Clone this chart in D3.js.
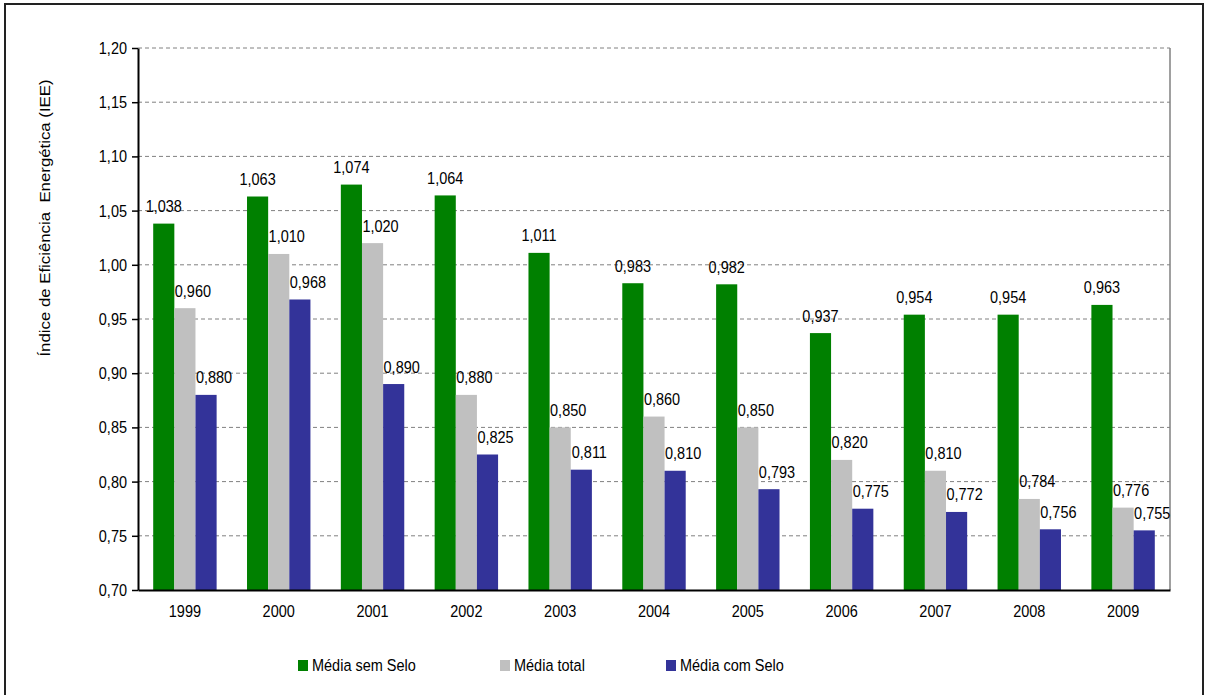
<!DOCTYPE html>
<html>
<head>
<meta charset="utf-8">
<script src="https://cdn.jsdelivr.net/npm/d3@7"></script>
<style>
  body { margin: 0; background: #fff; }
  text { font-family: "Liberation Sans", Arial, sans-serif; fill: #000; }
</style>
</head>
<body>
<div id="grafico"></div>
<script>
// dados
var anos = ["1999", "2000", "2001", "2002", "2003", "2004", "2005", "2006", "2007", "2008", "2009"];
var series = ["Média sem Selo", "Média total", "Média com Selo"];
var semSelo = [1.038, 1.063, 1.074, 1.064, 1.011, 0.983, 0.982, 0.937, 0.954, 0.954, 0.963];
var total = [0.960, 1.010, 1.020, 0.880, 0.850, 0.860, 0.850, 0.820, 0.810, 0.784, 0.776];
var comSelo = [0.880, 0.968, 0.890, 0.825, 0.811, 0.810, 0.793, 0.775, 0.772, 0.756, 0.755];
var yTicks = [0.70, 0.75, 0.80, 0.85, 0.90, 0.95, 1.00, 1.05, 1.10, 1.15, 1.20];
var cores = ["#008000", "#C0C0C0", "#333399"];

var valores = [semSelo, total, comSelo];

var width = 1209;
var height = 695;
var margem = {top: 48, right: 39, bottom: 105, left: 138};
var estica = 1.2; // o grafico original parece esticado na vertical

var svg = d3.select("#grafico")
    .append("svg")
    .attr("width", width)
    .attr("height", height);

// moldura externa
svg.append("rect")
    .attr("x", 5).attr("y", 4)
    .attr("width", 1198).attr("height", 700)
    .attr("fill", "none")
    .attr("stroke", "#222")
    .attr("stroke-width", 2);

var x0 = d3.scaleBand()
    .domain(anos)
    .range([margem.left, width - margem.right])
    .paddingInner(0.324)
    .paddingOuter(0.162);

var x1 = d3.scaleBand()
    .domain([0, 1, 2])
    .range([0, x0.bandwidth()]);

var y = d3.scaleLinear()
    .domain([0.70, 1.20])
    .range([height - margem.bottom, margem.top]);

var fmt = function (v, casas) { return v.toFixed(casas).replace(".", ","); };

// grade
svg.append("g")
    .selectAll("line")
    .data(yTicks.slice(1))
    .enter()
    .append("line")
    .attr("x1", margem.left)
    .attr("x2", width - margem.right)
    .attr("y1", function (d) { return y(d); })
    .attr("y2", function (d) { return y(d); })
    .attr("stroke", "#808080")
    .attr("stroke-width", 1)
    .attr("stroke-dasharray", "4,3");

// borda direita da area
svg.append("line")
    .attr("x1", width - margem.right).attr("x2", width - margem.right)
    .attr("y1", margem.top).attr("y2", height - margem.bottom)
    .attr("stroke", "#808080")
    .attr("stroke-width", 1.5);

// barras
var grupos = svg.append("g")
    .selectAll("g")
    .data(anos)
    .enter()
    .append("g")
    .attr("transform", function (d) { return "translate(" + x0(d) + ",0)"; });

grupos.selectAll("rect")
    .data(function (d, i) { return valores.map(function (s, k) { return {k: k, v: s[i]}; }); })
    .enter()
    .append("rect")
    .attr("x", function (d) { return x1(d.k); })
    .attr("y", function (d) { return y(d.v); })
    .attr("width", x1.bandwidth())
    .attr("height", function (d) { return y(0.70) - y(d.v); })
    .attr("fill", function (d) { return cores[d.k]; });

grupos.selectAll("text")
    .data(function (d, i) { return valores.map(function (s, k) { return {k: k, v: s[i]}; }); })
    .enter()
    .append("text")
    .attr("transform", function (d) {
        var cx = x1(d.k) + x1.bandwidth() / 2 + (d.k > 0 ? 8 : 0);
        return "translate(" + cx + "," + (y(d.v) - 11.5) + ") scale(1," + estica + ")";
    })
    .attr("text-anchor", "middle")
    .style("font-size", "14.5px")
    .text(function (d) { return fmt(d.v, 3); });

// eixo y
var eixoY = svg.append("g")
    .attr("transform", "translate(" + margem.left + ",0)")
    .call(d3.axisLeft(y).tickValues(yTicks).tickSize(6).tickSizeOuter(0)
        .tickFormat(function (d) { return fmt(d, 2); }));
eixoY.select(".domain").attr("stroke", "#000").attr("stroke-width", 2);
eixoY.selectAll(".tick line").attr("stroke", "#000").attr("stroke-width", 1.5);
eixoY.selectAll(".tick text")
    .attr("x", -11)
    .attr("transform", "scale(1," + estica + ")")
    .style("font-size", "14.5px")
    .style("font-family", "Liberation Sans, Arial, sans-serif");

// eixo x
var eixoX = svg.append("g")
    .attr("transform", "translate(0," + (height - margem.bottom) + ")")
    .call(d3.axisBottom(x0).tickSize(0).tickSizeOuter(0));
eixoX.select(".domain").attr("stroke", "#000").attr("stroke-width", 2);
eixoX.selectAll(".tick text")
    .attr("y", 0)
    .attr("dy", 0)
    .attr("transform", "translate(0,27) scale(1," + estica + ")")
    .style("font-size", "14.5px")
    .style("font-family", "Liberation Sans, Arial, sans-serif");

// titulo do eixo y
svg.append("text")
    .attr("transform", "translate(50,218) rotate(-90) scale(" + estica + ",1)")
    .attr("text-anchor", "middle")
    .style("font-size", "14px")
    .style("white-space", "pre")
    .text("Índice de Eficiência  Energética (IEE)");

// legenda
var legX = [298, 500, 666];
var leg = svg.append("g")
    .selectAll("g")
    .data(series)
    .enter()
    .append("g")
    .attr("transform", function (d, i) { return "translate(" + legX[i] + ",660)"; });
leg.append("rect")
    .attr("width", 10).attr("height", 11)
    .attr("fill", function (d, i) { return cores[i]; });
leg.append("text")
    .attr("transform", "translate(14,11) scale(1," + estica + ")")
    .style("font-size", "14.5px")
    .text(function (d) { return d; });
</script>
</body>
</html>
